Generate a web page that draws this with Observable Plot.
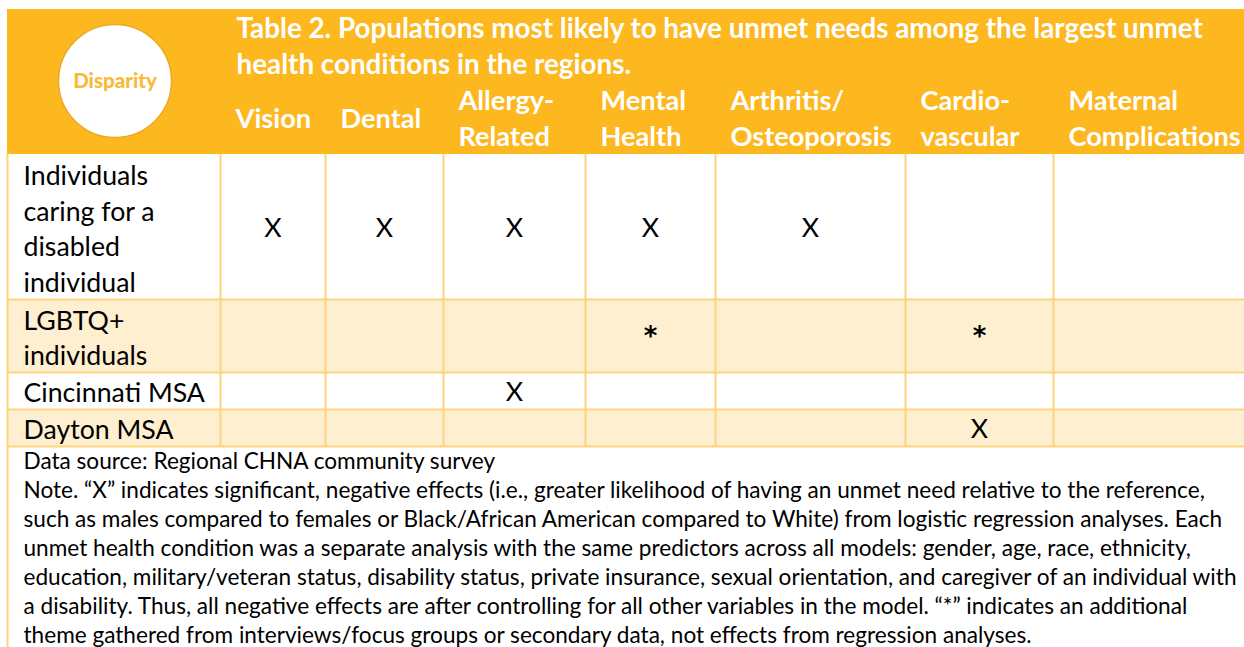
<!DOCTYPE html>
<html><head><meta charset="utf-8">
<script src="https://cdn.jsdelivr.net/npm/d3@7"></script>
<script src="https://cdn.jsdelivr.net/npm/@observablehq/plot@0.6"></script>
<style>html,body{margin:0;padding:0;background:#fff;overflow:hidden}</style>
</head><body><div id="chart"></div>
<script>
// ---------- data ----------
const conditions = ["Vision", "Dental", "Allergy-\nRelated", "Mental\nHealth", "Arthritis/\nOsteoporosis", "Cardio-\nvascular", "Maternal\nComplications"];
const populations = ["Individuals\ncaring for a\ndisabled\nindividual", "LGBTQ+\nindividuals", "Cincinnati MSA", "Dayton MSA"];
const cellMarks = [
  ["X", "X", "X", "X", "X", "", ""],
  ["", "", "", "*", "", "*", ""],
  ["", "", "X", "", "", "", ""],
  ["", "", "", "", "", "X", ""]
];
const titleText = "Table 2. Populations most likely to have unmet needs among the largest unmet\nhealth conditions in the regions.";
const badgeText = "Disparity";
const sourceText = "Data source: Regional CHNA community survey";
const noteLines = [
  "Note. \u201CX\u201D indicates significant, negative effects (i.e., greater likelihood of having an unmet need relative to the reference,",
  "such as males compared to females or Black/African American compared to White) from logistic regression analyses. Each",
  "unmet health condition was a separate analysis with the same predictors across all models: gender, age, race, ethnicity,",
  "education, military/veteran status, disability status, private insurance, sexual orientation, and caregiver of an individual with",
  "a disability. Thus, all negative effects are after controlling for all other variables in the model. \u201C*\u201D indicates an additional",
  "theme gathered from interviews/focus groups or secondary data, not effects from regression analyses."
];

// ---------- layout (styling, not data) ----------
const colWidths = [213, 105, 118, 142, 130, 190, 148, 191];
const headerHeight = 145;
const lineH = 36;
const orange = "#FDB71F", cream = "#FEEFD0", grid = "#FCD47C";
const bodySize = 26.7, noteSize = 22.6, titleSize = 27.8, headSize = 27.2;

const colEdges = [0];
colWidths.forEach(w => colEdges.push(colEdges[colEdges.length - 1] + w));
const totalW = colEdges[colEdges.length - 1];

let yCursor = headerHeight;
const rows = populations.map((label, i) => {
  const lines = label.split("\n").length;
  const y0 = yCursor, y1 = yCursor + lines * lineH + 1;
  yCursor = y1;
  return {label, i, y0, y1, ym: (y0 + y1) / 2};
});
const tableBottom = yCursor;
const rowEdges = [headerHeight, ...rows.map(r => r.y1)];

const cells = rows.flatMap((r, i) => cellMarks[i].map((m, j) => ({
  m, xm: (colEdges[j + 1] + colEdges[j + 2]) / 2, ym: r.ym
}))).filter(d => d.m);

const heads = conditions.map((c, j) => ({c, x: colEdges[j + 1] + 15}));
const badgeX = colWidths[0] / 2 + 1, badgeY = headerHeight / 2 - 1;

const chart = Plot.plot({
  width: 1244, height: 647,
  marginTop: 9, marginLeft: 7, marginRight: 0, marginBottom: 0,
  x: {domain: [0, totalW], axis: null},
  y: {domain: [0, 638], reverse: true, axis: null},
  style: {fontFamily: "Lato, sans-serif", background: "#fff"},
  marks: [
    Plot.rect([0], {x1: 0, x2: totalW, y1: 0, y2: headerHeight, fill: orange}),
    Plot.rect(rows, {x1: 0, x2: totalW, y1: "y0", y2: "y1", fill: d => d.i % 2 ? cream : "#ffffff"}),
    Plot.ruleY(rowEdges.slice(1), {x1: 0, x2: totalW, stroke: grid, strokeWidth: 2}),
    Plot.ruleX(colEdges.slice(1, -1), {y1: headerHeight, y2: tableBottom, stroke: grid, strokeWidth: 2}),
    Plot.ruleX([0], {y1: headerHeight, y2: 640, stroke: grid, strokeWidth: 2}),
    Plot.dot([0], {x: badgeX, y: badgeY, r: 56.5, fill: "#fff", stroke: "#EDA926", strokeWidth: 1.5}),
    Plot.text([badgeText], {x: badgeX, y: badgeY, text: d => d, fill: "#FBB93A", fontWeight: 900, fontSize: 20.5, fontFamily: "Lato, sans-serif"}),
    Plot.text([titleText], {x: colEdges[1] + 16, y: 35, text: d => d, textAnchor: "start", lineAnchor: "middle", lineHeight: lineH / titleSize, fill: "#fff", fontWeight: "bold", fontSize: titleSize}),
    Plot.text(heads, {x: "x", y: 107, text: "c", textAnchor: "start", lineAnchor: "middle", lineHeight: lineH / headSize, fill: "#fff", fontWeight: "bold", fontSize: headSize}),
    Plot.text(rows, {x: 16, y: "ym", text: "label", textAnchor: "start", lineAnchor: "middle", lineHeight: (lineH - 0.5) / bodySize, fill: "#000", fontSize: bodySize}),
    Plot.text(cells.filter(d => d.m === "X"), {x: "xm", y: "ym", dy: 1.5, text: "m", textAnchor: "middle", lineAnchor: "middle", fill: "#000", fontSize: bodySize}),
    Plot.text(cells.filter(d => d.m === "*"), {x: "xm", y: "ym", dy: 1, text: "m", textAnchor: "middle", lineAnchor: "middle", fill: "#000", fontSize: 26, fontWeight: "bold", fontFamily: "DejaVu Sans, sans-serif"}),
    Plot.text([[sourceText, ...noteLines].join("\n")], {x: 16, y: tableBottom + 2, text: d => d, textAnchor: "start", lineAnchor: "top", lineHeight: 29 / noteSize, fill: "#000", fontSize: noteSize})
  ]
});
document.getElementById("chart").appendChild(chart);
</script>
</body></html>
